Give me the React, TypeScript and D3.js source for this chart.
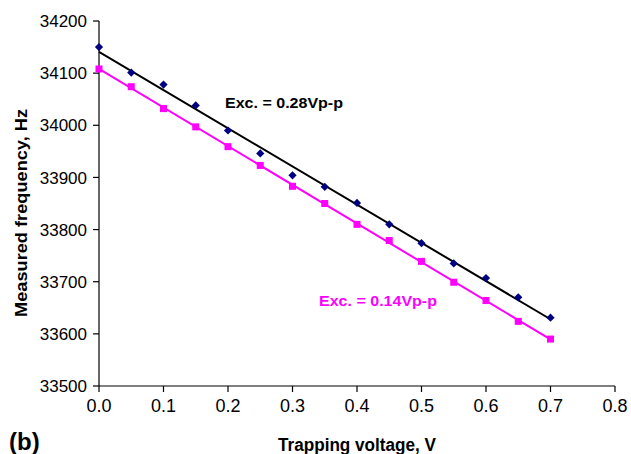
import React from "react";
import * as d3 from "d3";

const voltages = [0, 0.05, 0.1, 0.15, 0.2, 0.25, 0.3, 0.35, 0.4, 0.45, 0.5, 0.55, 0.6, 0.65, 0.7];
const freqHigh = [34150, 34101, 34078, 34038, 33990, 33946, 33904, 33882, 33851, 33810, 33774, 33735, 33707, 33670, 33631];
const freqLow = [34108, 34074, 34032, 33997, 33959, 33923, 33883, 33850, 33810, 33779, 33739, 33699, 33664, 33624, 33590];
const xTicks = [0, 0.1, 0.2, 0.3, 0.4, 0.5, 0.6, 0.7, 0.8];
const yTicks = [33500, 33600, 33700, 33800, 33900, 34000, 34100, 34200];

function fit(xs: number[], ys: number[]) {
  const mx = d3.mean(xs)!;
  const my = d3.mean(ys)!;
  let num = 0, den = 0;
  xs.forEach((x, i) => { num += (x - mx) * (ys[i] - my); den += (x - mx) ** 2; });
  const b = num / den;
  return { a: my - b * mx, b };
}

export default function App() {
  const W = 631, H = 454;
  const x = d3.scaleLinear().domain([0, 0.8]).range([99, 615]);
  const y = d3.scaleLinear().domain([33500, 34200]).range([386, 21]);
  const fHigh = fit(voltages, freqHigh);
  const fLow = fit(voltages, freqLow);
  const x0 = voltages[0], x1 = voltages[voltages.length - 1];
  const font = "'Liberation Sans', Arial, sans-serif";
  const diamond = d3.symbol().type(d3.symbolSquare).size(34)()!;
  return (
    <svg width={W} height={H} style={{ position: "absolute", left: 0, top: 0, background: "#fff" }} fontFamily={font}>
      <line x1={99} x2={99} y1={21} y2={386} stroke="#000" strokeWidth={1.2} />
      <line x1={99} x2={615} y1={386} y2={386} stroke="#000" strokeWidth={1.2} />
      {yTicks.map((t) => (
        <g key={t}>
          <line x1={93} x2={99} y1={y(t)} y2={y(t)} stroke="#000" strokeWidth={1.2} />
          <text x={87} y={y(t)} dy="0.36em" textAnchor="end" fontSize={17}>{t}</text>
        </g>
      ))}
      {xTicks.map((t) => (
        <g key={t}>
          <line x1={x(t)} x2={x(t)} y1={386} y2={392} stroke="#000" strokeWidth={1.2} />
          <text x={x(t)} y={412} textAnchor="middle" fontSize={18}>{t.toFixed(1)}</text>
        </g>
      ))}
      <line x1={x(x0)} y1={y(fHigh.a + fHigh.b * x0)} x2={x(x1)} y2={y(fHigh.a + fHigh.b * x1)} stroke="#000" strokeWidth={2} />
      <line x1={x(x0)} y1={y(fLow.a + fLow.b * x0)} x2={x(x1)} y2={y(fLow.a + fLow.b * x1)} stroke="#ff00ff" strokeWidth={2} />
      {voltages.map((v, i) => (
        <path key={"d" + i} d={diamond} transform={`translate(${x(v)},${y(freqHigh[i])}) rotate(45)`} fill="#000080" />
      ))}
      {voltages.map((v, i) => (
        <rect key={"s" + i} x={x(v) - 3.5} y={y(freqLow[i]) - 3.5} width={7} height={7} fill="#ff00ff" />
      ))}
      <text x={225} y={108} fontSize={14.6} fontWeight="bold" fill="#000" textLength={118} lengthAdjust="spacingAndGlyphs">Exc. = 0.28Vp-p</text>
      <text x={319} y={306} fontSize={14.6} fontWeight="bold" fill="#ff00ff" textLength={118} lengthAdjust="spacingAndGlyphs">Exc. = 0.14Vp-p</text>
      <text x={357} y={451} textAnchor="middle" fontSize={17.5} fontWeight="bold" textLength={158} lengthAdjust="spacingAndGlyphs">Trapping voltage, V</text>
      <text transform="translate(26.5,213) rotate(-90)" textAnchor="middle" fontSize={17} fontWeight="bold" textLength={208} lengthAdjust="spacingAndGlyphs">Measured frequency, Hz</text>
      <text x={9} y={450} fontSize={24} fontWeight="bold">(b)</text>
    </svg>
  );
}
